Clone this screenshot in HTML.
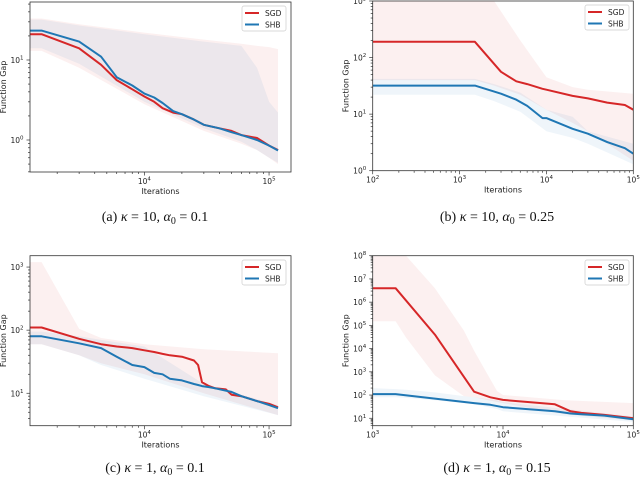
<!DOCTYPE html>
<html><head><meta charset="utf-8"><style>
html,body{margin:0;padding:0;background:#fff;}
svg{display:block;}
.tk{font-family:"DejaVu Sans","Liberation Sans",sans-serif;font-size:7.5px;fill:#222;}
.lab{font-family:"DejaVu Sans","Liberation Sans",sans-serif;font-size:8px;fill:#222;}
.cap{font-family:"Liberation Serif",serif;font-size:14px;fill:#111;}
</style></head><body>
<svg id="fig" width="640" height="480" viewBox="0 0 640 480" xmlns="http://www.w3.org/2000/svg"></svg>
<script>
// ---- Panel (a) data ----
const aIters=[1210,1500,3000,4500,6000,8000,10000,12000,14000,17000,20000,25000,30000,40000,50000,60000,80000,100000,118000];
const aSGD=[21,21,14,8.7,5.6,4.3,3.5,3.0,2.5,2.2,2.1,1.8,1.55,1.4,1.3,1.15,1.06,0.85,0.75];
const aSHB=[23.3,23.3,17,11,6.1,4.8,3.8,3.4,2.9,2.3,2.1,1.8,1.55,1.4,1.25,1.15,1.0,0.85,0.74];
const aBandX=[1210,1500,3000,10000,30000,60000,80000,100000,118000];
const aSGDHi=[33,33,28,22,18,16,15,14.5,13.7];
const aSGDLo=[13,13,8,2.8,1.3,0.9,0.75,0.6,0.5];
const aSHBHi=[32,32,27,21,17,15,8,3,2.2];
const aSHBLo=[14,14,9,3,1.4,0.95,0.75,0.6,0.52];
// ---- Panel (b) data ----
const bIters=[100,1500,3000,4500,6000,9000,10000,20000,30000,50000,80000,100000];
const bSGD=[190,190,56,38,34,28,27,21,19,16,14.5,12];
const bSHB=[32,32,23,18,14,8.5,8.5,5.5,4.5,3.2,2.5,2.0];
const bBandX=[100,1500,2500,5000,10000,20000,30000,100000];
const bSGDHi=[1000,1000,1000,200,45,30,27,23];
const bSGDLo=[40,40,32,22,12,7,5,1.5];
const bSHBHi=[42,42,34,24,12,9,5,3];
const bSHBLo=[22,22,17,11,5,3.8,3,1.3];
// ---- Panel (c) data ----
const cIters=[1210,1500,3000,4500,6000,8000,10000,12000,14000,16000,20000,25000,27000,29000,33000,37000,45000,50000,60000,80000,100000,118000];
const cSGD=[110,110,73,60,55,52,48,45,42,40,38,33,28,15,13,12,11.5,9.5,9,7.5,6.8,6];
const cSHB=[80,80,62,52,38,28,26,21,20,17,16,14,13.5,13,12.5,12,11,10.5,9,7.5,6.5,5.8];
const cBandX=[1210,1500,3000,4500,10000,30000,118000];
const cSGDHi=[1200,1200,105,75,60,50,43];
const cSGDLo=[60,60,40,30,20,10,4.5];
const cSHBHi=[95,95,80,70,55,14,6.5];
const cSHBLo=[60,60,40,28,17,9,4.5];
// ---- Panel (d) data ----
const dIters=[1000,1500,3000,6000,8000,10000,25000,33000,40000,60000,100000];
const dSGD=[4e6,4e6,4e4,140,80,62,40,20,17,14,10];
const dSHB=[110,110,70,45,38,30,20,16,15,13,9];
const dBandX=[1000,1500,1800,3000,5000,6000,9000,10000,30000,100000];
const dSGDHi=[1e8,1e8,1e8,4e6,6e4,8e3,150,100,60,45];
const dSGDLo=[1.5e5,1.5e5,3e4,700,90,80,50,45,15,8];
const dSHBHi=[200,180,170,130,90,80,60,50,25,12];
const dSHBLo=[80,80,75,60,45,40,25,20,12,7];

const NS="http://www.w3.org/2000/svg";
const fig=document.getElementById('fig');
const RED="#d62728",BLUE="#1f77b4";
function mk(tag,attrs,parent){const e=document.createElementNS(NS,tag);for(const k in attrs)e.setAttribute(k,attrs[k]);(parent||fig).appendChild(e);return e;}

const panels=[
 {id:'a',x0:30,x1:291,y0:2,y1:172,xl:[3.083,5.176],yl:[-0.4,1.725],xt:[4,5],yt:[0,1],
  it:aIters,sgd:aSGD,shb:aSHB,bx:aBandX,sh:aSGDHi,sl:aSGDLo,hh:aSHBHi,hl:aSHBLo,
  cap:['(a) ',' = 10, ',' = 0.1'],cx:155,cy:221,lx:242,ly:6},
 {id:'b',x0:372.7,x1:633.3,y0:1,y1:170.7,xl:[2,5],yl:[0,3],xt:[2,3,4,5],yt:[0,1,2,3],
  it:bIters,sgd:bSGD,shb:bSHB,bx:bBandX,sh:bSGDHi,sl:bSGDLo,hh:bSHBHi,hl:bSHBLo,
  cap:['(b) ',' = 10, ',' = 0.25'],cx:497,cy:221,lx:585,ly:5},
 {id:'c',x0:30,x1:291,y0:255.7,y1:425.7,xl:[3.083,5.176],yl:[0.486,3.18],xt:[4,5],yt:[1,2,3],
  it:cIters,sgd:cSGD,shb:cSHB,bx:cBandX,sh:cSGDHi,sl:cSGDLo,hh:cSHBHi,hl:cSHBLo,
  cap:['(c) ',' = 1, ',' = 0.1'],cx:155,cy:472,lx:242,ly:260},
 {id:'d',x0:372.7,x1:633.3,y0:255.7,y1:425.7,xl:[3,5],yl:[0.68,8],xt:[3,4,5],yt:[1,2,3,4,5,6,7,8],
  it:dIters,sgd:dSGD,shb:dSHB,bx:dBandX,sh:dSGDHi,sl:dSGDLo,hh:dSHBHi,hl:dSHBLo,
  cap:['(d) ',' = 1, ',' = 0.15'],cx:497,cy:472,lx:585,ly:260}
];

panels.forEach(p=>{
  const sx=v=>p.x0+(Math.log10(v)-p.xl[0])/(p.xl[1]-p.xl[0])*(p.x1-p.x0);
  const sy=v=>p.y1-(Math.log10(v)-p.yl[0])/(p.yl[1]-p.yl[0])*(p.y1-p.y0);
  const g=mk('g',{});
  
  
  const cp=mk('clipPath',{id:'clip'+p.id},g);
  mk('rect',{x:p.x0,y:p.y0,width:p.x1-p.x0,height:p.y1-p.y0},cp);
  const plot=mk('g',{'clip-path':'url(#clip'+p.id+')'},g);
  function band(hi,lo,col,name){
    let d='';
    p.bx.forEach((x,i)=>{d+=(i?'L':'M')+sx(x).toFixed(1)+','+sy(hi[i]).toFixed(1);});
    for(let i=p.bx.length-1;i>=0;i--)d+='L'+sx(p.bx[i]).toFixed(1)+','+sy(lo[i]).toFixed(1);
    const e=mk('path',{d:d+'Z',fill:col,'fill-opacity':0.07,stroke:'none'},plot);
    
    
  }
  band(p.sh,p.sl,RED,'sgd-band-'+p.id);
  band(p.hh,p.hl,BLUE,'shb-band-'+p.id);
  function line(vals,col,name){
    const pts=p.it.map((x,i)=>sx(x).toFixed(1)+','+sy(vals[i]).toFixed(1)).join(' ');
    const e=mk('polyline',{points:pts,fill:'none',stroke:col,'stroke-width':2,'stroke-linejoin':'round'},plot);
    
    
  }
  line(p.sgd,RED,'sgd-line-'+p.id);
  line(p.shb,BLUE,'shb-line-'+p.id);
  const fr=mk('rect',{x:p.x0,y:p.y0,width:p.x1-p.x0,height:p.y1-p.y0,fill:'none',stroke:'#333','stroke-width':0.8},g);
  
  
  for(let d=Math.floor(p.xl[0]);d<=Math.ceil(p.xl[1]);d++){
    for(let k=1;k<10;k++){
      const l=d+Math.log10(k);
      if(l<p.xl[0]-1e-6||l>p.xl[1]+1e-6)continue;
      const x=p.x0+(l-p.xl[0])/(p.xl[1]-p.xl[0])*(p.x1-p.x0);
      mk('line',{x1:x,x2:x,y1:p.y1,y2:p.y1+(k==1?3.5:2),stroke:'#333','stroke-width':0.7},g);
    }
  }
  p.xt.forEach(t=>{
    const x=p.x0+(t-p.xl[0])/(p.xl[1]-p.xl[0])*(p.x1-p.x0);
    const tx=mk('text',{x:x,y:p.y1+12,'text-anchor':'middle',class:'tk'},g);
    
    
    tx.textContent='10';
    const s=mk('tspan',{dy:-3.5,'font-size':'5.5px'},tx);s.textContent=t;
  });
  for(let d=Math.floor(p.yl[0]);d<=Math.ceil(p.yl[1]);d++){
    for(let k=1;k<10;k++){
      const l=d+Math.log10(k);
      if(l<p.yl[0]-1e-6||l>p.yl[1]+1e-6)continue;
      const y=p.y1-(l-p.yl[0])/(p.yl[1]-p.yl[0])*(p.y1-p.y0);
      mk('line',{x1:p.x0,x2:p.x0-(k==1?3.5:2),y1:y,y2:y,stroke:'#333','stroke-width':0.7},g);
    }
  }
  p.yt.forEach(t=>{
    const y=p.y1-(t-p.yl[0])/(p.yl[1]-p.yl[0])*(p.y1-p.y0);
    const tx=mk('text',{x:p.x0-13,y:y+3,'text-anchor':'middle',class:'tk'},g);
    
    
    tx.textContent='10';
    const s=mk('tspan',{dy:-3.5,'font-size':'5.5px'},tx);s.textContent=t;
  });
  const xl=mk('text',{x:(p.x0+p.x1)/2,y:p.y1+22,'text-anchor':'middle',class:'lab'},g);
  
  
  xl.textContent='Iterations';
  const ycx=p.x0-24,ycy=(p.y0+p.y1)/2;
  const yl=mk('text',{x:ycx,y:ycy,'text-anchor':'middle',class:'lab',transform:'rotate(-90 '+ycx+' '+ycy+')'},g);
  
  
  yl.textContent='Function Gap';
  const lg=mk('g',{},g);
  
  
  mk('rect',{x:p.lx,y:p.ly,width:44,height:25,rx:2,fill:'#fff','fill-opacity':0.85,stroke:'#ccc','stroke-width':0.7},lg);
  [['SGD',RED],['SHB',BLUE]].forEach((e,i)=>{
    const yy=p.ly+7+i*11.5;
    mk('line',{x1:p.lx+3,x2:p.lx+17,y1:yy,y2:yy,stroke:e[1],'stroke-width':2},lg);
    const t=mk('text',{x:p.lx+23,y:yy+3,class:'tk'},lg);
    
    
    t.textContent=e[0];
  });
  const cap=mk('text',{x:p.cx,y:p.cy,'text-anchor':'middle',class:'cap'},g);
  
  
  const parts=[[p.cap[0],{}],['κ',{'font-style':'italic'}],[p.cap[1],{}],['α',{'font-style':'italic'}],['0',{dy:3,'font-size':'10px'}],[p.cap[2],{dy:-3}]];
  parts.forEach(q=>{const s=mk('tspan',q[1],cap);s.textContent=q[0];});
});
</script>
</body></html>
